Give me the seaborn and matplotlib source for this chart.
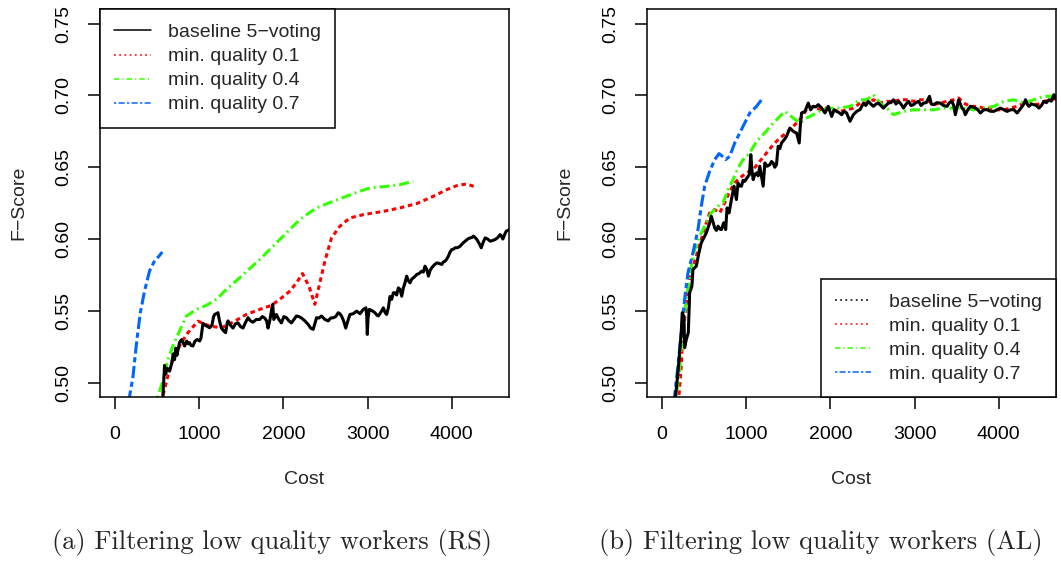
import matplotlib
matplotlib.use("Agg")
import matplotlib.pyplot as plt
from matplotlib.lines import Line2D
import seaborn as sns
import pandas as pd

# ---------------- data ----------------
series_names = ["baseline 5\u2212voting", "min. quality 0.1", "min. quality 0.4", "min. quality 0.7"]
series_colors = ["#000000", "#FF0000", "#33FF00", "#0066FF"]

# (a) RS
rs_base = [(567,0.490),(587,0.512),(600,0.506),(620,0.510),(646,0.508),(670,0.513),(690,0.520),(706,0.516),
           (720,0.524),(734,0.519),(765,0.528),(790,0.530),(825,0.5255),(850,0.529),(870,0.527),(884,0.5278),
           (900,0.526),(924,0.5255),(950,0.529),(975,0.530),(1004,0.529),(1020,0.531),(1043,0.5412),(1070,0.540),
           (1100,0.539),(1123,0.5382),(1150,0.540),(1170,0.546),(1182,0.5475),(1200,0.548),(1222,0.5487),(1240,0.543),
           (1262,0.538),(1290,0.536),(1313,0.5348),(1330,0.541),(1341,0.543),(1370,0.540),(1400,0.538),(1430,0.541),
           (1460,0.5416),(1490,0.539),(1519,0.538),(1550,0.542),(1579,0.5452),(1608,0.543),(1638,0.5421),(1678,0.544),
           (1718,0.544),(1748,0.546),(1777,0.545),(1800,0.543),(1817,0.538),(1840,0.544),(1860,0.551),(1872,0.5545),
           (1885,0.544),(1916,0.5475),(1945,0.544),(1975,0.5416),(2005,0.546),(2035,0.5452),(2065,0.543),(2095,0.5416),
           (2125,0.544),(2154,0.5464),(2184,0.546),(2214,0.545),(2254,0.543),(2294,0.5405),(2323,0.538),(2353,0.5371),
           (2373,0.541),(2393,0.5452),(2422,0.545),(2452,0.5464),(2492,0.544),(2532,0.543),(2561,0.545),(2591,0.5452),
           (2621,0.546),(2651,0.5487),(2670,0.548),(2690,0.5464),(2715,0.543),(2740,0.538),(2765,0.543),(2790,0.5475),
           (2830,0.548),(2869,0.5498),(2910,0.548),(2948,0.551),(2980,0.5521),(2990,0.546),(2996,0.5336),(3005,0.545),
           (3020,0.551),(3055,0.550),(3087,0.5487),(3110,0.547),(3127,0.5464),(3157,0.549),(3187,0.5521),(3206,0.549),
           (3226,0.5475),(3246,0.552),(3266,0.560),(3286,0.558),(3306,0.5626),(3325,0.5626),(3345,0.561),(3365,0.566),
           (3385,0.565),(3405,0.5602),(3425,0.566),(3444,0.5695),(3464,0.5742),(3484,0.571),(3504,0.5695),(3523,0.572),
           (3543,0.573),(3563,0.574),(3583,0.5753),(3612,0.576),(3642,0.5776),(3662,0.577),(3682,0.5811),(3702,0.579),
           (3722,0.5742),(3742,0.578),(3762,0.580),(3792,0.582),(3821,0.5834),(3851,0.583),(3881,0.5823),(3900,0.584),
           (3920,0.5846),(3940,0.586),(3960,0.5881),(3980,0.591),(4000,0.5927),(4020,0.593),(4040,0.5939),(4070,0.594),
           (4099,0.595),(4129,0.597),(4159,0.5985),(4189,0.600),(4218,0.6008),(4238,0.601),(4258,0.602),(4278,0.601),
           (4298,0.5997),(4325,0.597),(4350,0.5939),(4375,0.598),(4397,0.6008),(4427,0.600),(4456,0.5985),(4486,0.599),
           (4516,0.5997),(4546,0.601),(4575,0.6031),(4590,0.602),(4607,0.600),(4627,0.603),(4647,0.6055),(4667,0.606),
           (4690,0.6066)]
rs_q01 = [(540,0.480),(567,0.4907),(626,0.5046),(686,0.516),(786,0.5278),(865,0.5348),(984,0.5428),(1123,0.5394),
          (1262,0.5382),(1400,0.5421),(1559,0.5475),(1718,0.551),(1857,0.5538),(1956,0.558),(2075,0.5637),(2155,0.5695),
          (2226,0.576),(2305,0.5668),(2373,0.5545),(2432,0.5695),(2492,0.5846),(2571,0.6008),(2670,0.6089),(2789,0.6147),
          (2948,0.617),(3187,0.6193),(3385,0.6217),(3583,0.6247),(3782,0.6298),(3940,0.6344),(4060,0.6372),(4179,0.6384),
          (4278,0.6363)]
rs_q04 = [(480,0.480),(508,0.4907),(567,0.501),(626,0.516),(686,0.5255),(765,0.536),(845,0.5463),(964,0.551),
          (1083,0.5538),(1202,0.558),(1321,0.5649),(1479,0.573),(1718,0.5857),(1876,0.595),(2036,0.6043),(2194,0.6136),
          (2392,0.6217),(2590,0.6263),(2750,0.6298),(2908,0.6333),(3027,0.6356),(3226,0.6367),(3385,0.6379),(3543,0.6402)]
rs_q07 = [(150,0.480),(170,0.490),(190,0.497),(210,0.503),(240,0.520),(265,0.533),(300,0.549),(350,0.564),
          (410,0.578),(470,0.585),(520,0.588),(560,0.591)]

# (b) AL
al_base = [(150,0.480),(163,0.4907),(191,0.507),(211,0.521),(230,0.5348),(242,0.5487),(252,0.547),(262,0.5464),(270,0.5243),
           (290,0.530),(314,0.5348),(330,0.5626),(357,0.5672),(369,0.5788),(409,0.5811),(440,0.5904),(468,0.5974),
           (488,0.5997),(528,0.6043),(568,0.6113),(587,0.6159),(607,0.612),(627,0.6078),(647,0.606),(667,0.609),
           (687,0.607),(707,0.6066),(734,0.6113),(758,0.6066),(774,0.6217),(798,0.6182),(826,0.6275),(857,0.6368),
           (885,0.6275),(905,0.6391),(925,0.637),(945,0.6368),(965,0.641),(984,0.6402),(1004,0.642),(1024,0.6437),
           (1040,0.645),(1056,0.6588),(1070,0.648),(1084,0.6414),(1104,0.645),(1124,0.646),(1143,0.644),(1163,0.6507),
           (1183,0.6437),(1203,0.6368),(1223,0.653),(1250,0.6507),(1282,0.6518),(1302,0.654),(1322,0.653),(1341,0.650),
           (1361,0.6518),(1381,0.6646),(1401,0.663),(1421,0.6669),(1450,0.669),(1480,0.6715),(1520,0.6773),(1560,0.675),
           (1600,0.6738),(1631,0.6669),(1645,0.680),(1659,0.6878),(1699,0.6889),(1738,0.6947),(1766,0.690),(1798,0.6924),
           (1827,0.692),(1857,0.6936),(1897,0.6912),(1937,0.6878),(1976,0.6924),(2016,0.6854),(2045,0.690),(2075,0.6889),
           (2105,0.688),(2135,0.6866),(2165,0.689),(2194,0.6878),(2234,0.682),(2274,0.6866),(2313,0.6889),(2353,0.6901),
           (2393,0.6947),(2422,0.693),(2452,0.6959),(2482,0.694),(2512,0.6924),(2541,0.694),(2571,0.6947),(2601,0.693),
           (2631,0.6912),(2660,0.693),(2690,0.6947),(2720,0.695),(2750,0.697),(2780,0.694),(2810,0.6959),(2840,0.694),
           (2869,0.6912),(2900,0.694),(2929,0.6959),(2958,0.693),(2988,0.6936),(3018,0.695),(3048,0.6959),(3078,0.693),
           (3107,0.6947),(3140,0.695),(3178,0.6994),(3200,0.694),(3226,0.6936),(3266,0.695),(3306,0.6947),(3345,0.693),
           (3385,0.6924),(3415,0.695),(3445,0.6959),(3465,0.693),(3485,0.6866),(3505,0.692),(3524,0.697),(3544,0.694),
           (3564,0.6912),(3584,0.690),(3603,0.6866),(3633,0.690),(3663,0.6924),(3693,0.692),(3722,0.6912),(3752,0.690),
           (3782,0.6878),(3821,0.690),(3861,0.6901),(3901,0.689),(3941,0.6889),(3980,0.690),(4020,0.6912),(4060,0.690),
           (4099,0.6889),(4139,0.690),(4179,0.6901),(4218,0.6878),(4248,0.690),(4278,0.6924),(4298,0.694),(4318,0.697),
           (4338,0.694),(4358,0.6924),(4388,0.694),(4417,0.6936),(4447,0.693),(4477,0.6912),(4507,0.693),(4536,0.6959),
           (4566,0.695),(4596,0.697),(4625,0.696),(4655,0.7005),(4687,0.697)]
al_q01 = [(190,0.480),(203,0.4907),(230,0.5116),(250,0.5348),(290,0.5533),(330,0.5719),(369,0.5811),(409,0.5881),
          (468,0.5997),(528,0.6113),(568,0.6182),(627,0.6205),(687,0.6182),(746,0.6252),(806,0.6333),(865,0.6391),
          (925,0.6426),(1004,0.646),(1084,0.6484),(1163,0.6541),(1242,0.6599),(1322,0.6657),(1401,0.6704),(1480,0.6739),
          (1560,0.6785),(1639,0.6831),(1718,0.6901),(1798,0.6924),(1877,0.6901),(1956,0.6912),(2035,0.690),(2115,0.6889),
          (2194,0.690),(2274,0.6912),(2353,0.6947),(2432,0.6947),(2512,0.697),(2591,0.6947),(2671,0.6959),(2750,0.6959),
          (2829,0.697),(2909,0.697),(2988,0.6959),(3067,0.697),(3147,0.697),(3226,0.6936),(3306,0.6947),(3385,0.6959),
          (3465,0.697),(3524,0.6982),(3584,0.6947),(3663,0.6924),(3742,0.6924),(3821,0.6912),(3901,0.6912),(3980,0.690),
          (4060,0.690),(4139,0.6912),(4218,0.6924),(4298,0.6947),(4377,0.6959),(4457,0.6936),(4536,0.6959),(4616,0.697),
          (4687,0.698)]
al_q04 = [(160,0.480),(171,0.4907),(211,0.5093),(242,0.5348),(290,0.558),(350,0.5811),(389,0.5927),(449,0.602),
          (508,0.609),(587,0.6182),(667,0.6229),(726,0.6252),(786,0.6344),(845,0.6414),(905,0.6495),(964,0.6553),
          (1044,0.660),(1124,0.6681),(1222,0.6739),(1322,0.6808),(1401,0.6854),(1461,0.6889),(1560,0.6843),(1639,0.6808),
          (1718,0.6843),(1798,0.6866),(1897,0.690),(1996,0.6912),(2115,0.6912),(2234,0.6924),(2353,0.697),(2432,0.697),
          (2512,0.7005),(2591,0.6947),(2671,0.6912),(2750,0.6866),(2869,0.6889),(2988,0.690),(3107,0.690),(3226,0.690),
          (3345,0.6912),(3465,0.6912),(3584,0.6912),(3703,0.690),(3821,0.6912),(3941,0.6924),(4060,0.6959),(4179,0.697),
          (4298,0.6947),(4417,0.697),(4536,0.6994),(4616,0.6994),(4687,0.7005)]
al_q07 = [(140,0.480),(151,0.4907),(191,0.5116),(230,0.5348),(270,0.558),(310,0.5765),(369,0.5904),(429,0.6066),
          (468,0.6229),(508,0.6368),(568,0.6472),(627,0.6553),(679,0.6595),(719,0.6576),(758,0.6553),(806,0.6576),
          (865,0.6669),(925,0.6739),(984,0.6808),(1044,0.6878),(1124,0.6924),(1183,0.697),(1203,0.6977)]

x_ticks = [0, 1000, 2000, 3000, 4000]
y_ticks = [0.50, 0.55, 0.60, 0.65, 0.70, 0.75]
y_tick_labels = ["0.50", "0.55", "0.60", "0.65", "0.70", "0.75"]
captions = ["(a) Filtering low quality workers (RS)", "(b) Filtering low quality workers (AL)"]

# ---------------- styling ----------------
sns.set_style("white")
plt.rcParams["font.family"] = ["Liberation Sans", "DejaVu Sans"]
plt.rcParams["axes.linewidth"] = 1.1

plot_dashes = {series_names[0]: "", series_names[1]: (1.5, 1.2),
               series_names[2]: (3.3, 1.3, 0.6, 1.3), series_names[3]: (1.7, 1.2, 4.0, 1.2)}
palette = dict(zip(series_names, series_colors))
draw_order = [series_names[1], series_names[2], series_names[3], series_names[0]]


def make_df(groups):
    rows = []
    for name, pts in zip(series_names, groups):
        for x, y in pts:
            rows.append({"Cost": x, "F-Score": y, "series": name})
    return pd.DataFrame(rows)


fig = plt.figure(figsize=(10.61, 5.63), dpi=100)
W, H = 1061.0, 563.0
ax1 = fig.add_axes([100 / W, 1 - 397 / H, 409 / W, 387.7 / H])
ax2 = fig.add_axes([646.7 / W, 1 - 397 / H, 409.3 / W, 387.7 / H])

panels = [(ax1, [rs_base, rs_q01, rs_q04, rs_q07]), (ax2, [al_base, al_q01, al_q04, al_q07])]
for ax, groups in panels:
    df = make_df(groups)
    sns.lineplot(data=df, x="Cost", y="F-Score", hue="series", style="series",
                 hue_order=draw_order, style_order=draw_order,
                 palette=palette, dashes=plot_dashes, linewidth=2.2,
                 estimator=None, sort=False, legend=False, ax=ax)
    ax.set_xlim(-180, 4680)
    ax.set_ylim(0.49, 0.76)
    ax.set_xticks(x_ticks)
    ax.set_xticklabels([str(t) for t in x_ticks])
    ax.set_yticks(y_ticks)
    ax.set_yticklabels(y_tick_labels, rotation=90, va="center")
    ax.tick_params(axis="both", direction="out", length=8.6, width=1.1, labelsize=14,
                   color="black", labelcolor="black", left=True, bottom=True)
    ax.tick_params(axis="x", pad=12.0)
    ax.tick_params(axis="y", pad=11.5)
    for s in ax.spines.values():
        s.set_visible(True)
        s.set_color("black")
        s.set_linewidth(1.1)
    ax.set_xlabel("Cost", fontsize=14)
    ax.set_ylabel("F\u2212Score", fontsize=14)
    ax.xaxis.set_label_coords(0.5, (397 - 480) / 387.7)
    ax.xaxis.label.set_va("center")
    ax.yaxis.set_label_coords((18.5 - 100) / 409, 0.5)
    ax.yaxis.label.set_va("center")

ax2.yaxis.set_label_coords((565 - 646.7) / 409.3, 0.5)

leg_dashes_left = [None, (1.2, 2.2), (3.5, 2.0, 0.8, 2.0), (1.5, 1.5, 4.0, 1.5)]
leg_dashes_right = [(1.2, 2.2), (1.2, 2.2), (3.5, 2.0, 0.8, 2.0), (1.5, 1.5, 4.0, 1.5)]


def handles_for(dash_list):
    hs = []
    for c, d in zip(series_colors, dash_list):
        if d is None:
            hs.append(Line2D([], [], color=c, lw=1.1))
        else:
            hs.append(Line2D([], [], color=c, lw=1.1, dashes=d))
    return hs


for ax, dl, loc in [(ax1, leg_dashes_left, "upper left"), (ax2, leg_dashes_right, "lower right")]:
    leg = ax.legend(handles_for(dl), series_names, loc=loc, borderaxespad=0, fancybox=False,
                    edgecolor="black", framealpha=1, fontsize=14, handlelength=1.86,
                    handletextpad=0.9, borderpad=0.74, labelspacing=0.33)
    leg.get_frame().set_linewidth(1.1)

fig.text(272 / W, 1 - 543 / H, captions[0], ha="center", va="center", family="cmr10", fontsize=19)
fig.text(821 / W, 1 - 543 / H, captions[1], ha="center", va="center", family="cmr10", fontsize=19)

fig.savefig("out.png", dpi=100)
